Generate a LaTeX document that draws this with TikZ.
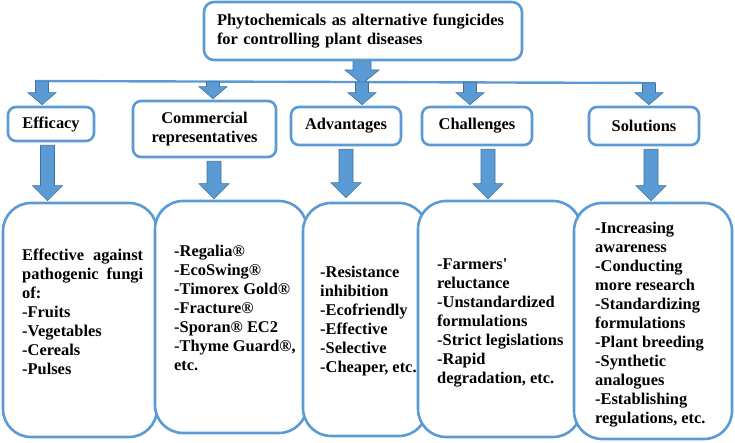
\documentclass[tikz,border=0pt]{standalone}
\usepackage{fontspec}
\setmainfont{Liberation Serif}
\usetikzlibrary{calc}
\definecolor{bl}{HTML}{5B9BD5}
\definecolor{bld}{HTML}{41719C}
\newcommand\blockarr[5]{%
  \draw[blockarrow] let \p1=(#1), \p2=(#2) in
   (\x1-#3,\y1) -- (\x1+#3,\y1) -- (\x1+#3,\y2+#5) -- (\x1+#4,\y2+#5) -- (\x1,\y2)
   -- (\x1-#4,\y2+#5) -- (\x1-#3,\y2+#5) -- cycle;}
\begin{document}
\begin{tikzpicture}[x=1pt,y=-1pt,
  tx/.style={font=\fontsize{16.4}{19}\selectfont\bfseries, text=black},
  topbox/.style={draw=bl, line width=2.6pt, rounded corners=10pt, fill=white, inner sep=0pt, tx, align=left},
  catbox/.style={draw=bl, line width=2.6pt, rounded corners=8pt, fill=white, inner sep=0pt, tx, align=center},
  bigbox/.style={draw=bl, line width=2.6pt, rounded corners=28pt, fill=white, inner sep=0pt},
  body/.style={tx, align=left, anchor=north west, inner sep=0pt},
  blockarrow/.style={fill=bl, draw=bld, line width=0.6pt, line join=miter},
  hline/.style={draw=bl, line width=2.4pt}
]
\useasboundingbox (0,0) rectangle (735,443);

% top box
\node[topbox, minimum width=318pt, minimum height=58pt, text width=292pt] (top) at (363,31)
  {Phytochemicals as alternative fungicides\\for controlling plant diseases};

% category boxes
\node[catbox, minimum width=86pt, minimum height=34pt] (eff) at (51,124) {Efficacy};
\node[catbox, minimum width=143pt, minimum height=56pt] (com) at (204.5,129) {Commercial\\representatives};
\node[catbox, minimum width=110pt, minimum height=38pt] (adv) at (346,126) {Advantages};
\node[catbox, minimum width=110pt, minimum height=38pt] (cha) at (477,126) {Challenges};
\node[catbox, minimum width=110pt, minimum height=38pt] (sol) at (644,126) {Solutions};

% horizontal distribution line
\coordinate (hl) at (35,81);
\coordinate (hr) at (655,83);
\draw[hline] (hl) -- (hr);

% arrow from top box to the line
\coordinate (ta) at ($(top.south)+(-1,0.5)$);
\coordinate (tb) at (362,84);
\blockarr{ta}{tb}{9pt}{17pt}{14pt}

% small arrows from the line to categories
\coordinate (s1) at (42,81.1);
\coordinate (s2) at (213,81.6);
\coordinate (s3) at (362,82.1);
\coordinate (s4) at (470,82.4);
\coordinate (s5) at (649,83);
\coordinate (e1) at ($(s1 |- eff.north)+(0,-1)$);
\coordinate (e2) at ($(s2 |- com.north)+(0,-1)$);
\coordinate (e3) at ($(s3 |- adv.north)+(0,-1)$);
\coordinate (e4) at ($(s4 |- cha.north)+(0,-1)$);
\coordinate (e5) at ($(s5 |- sol.north)+(0,-1)$);
\blockarr{s1}{e1}{6.5pt}{14pt}{12pt}
\blockarr{s2}{e2}{6.5pt}{14pt}{12pt}
\blockarr{s3}{e3}{6.5pt}{14pt}{12pt}
\blockarr{s4}{e4}{6.5pt}{14pt}{12pt}
\blockarr{s5}{e5}{6.5pt}{14pt}{12pt}

% detail boxes
\node[bigbox, minimum width=154pt, minimum height=234pt] (effb) at (80,320) {};
\node[bigbox, minimum width=152pt, minimum height=232pt] (comb) at (231,317) {};
\node[bigbox, minimum width=124pt, minimum height=233pt] (advb) at (365,319.5) {};
\node[bigbox, minimum width=163pt, minimum height=236pt] (chab) at (499.5,319) {};
\node[bigbox, minimum width=158pt, minimum height=236pt] (solb) at (653,321) {};

% big arrows from categories to detail boxes
\coordinate (b1) at ($(eff.south)+(-3.5,3)$);
\coordinate (b2) at ($(com.south)+(9.5,3)$);
\coordinate (b3) at ($(adv.south)+(0,3)$);
\coordinate (b4) at ($(cha.south)+(11,3)$);
\coordinate (b5) at ($(sol.south)+(7,3)$);
\coordinate (c1) at ($(b1 |- effb.north)+(0,-1)$);
\coordinate (c2) at ($(b2 |- comb.north)+(0,-1)$);
\coordinate (c3) at ($(b3 |- advb.north)+(0,-4)$);
\coordinate (c4) at ($(b4 |- chab.north)+(0,-1)$);
\coordinate (c5) at ($(b5 |- solb.north)+(0,-1)$);
\blockarr{b1}{c1}{7pt}{15pt}{15pt}
\blockarr{b2}{c2}{7pt}{15pt}{15pt}
\blockarr{b3}{c3}{7pt}{15pt}{15pt}
\blockarr{b4}{c4}{7pt}{15pt}{15pt}
\blockarr{b5}{c5}{7pt}{15pt}{15pt}

% texts
\node[body] (efft) at (22,246.7) {\strut\makebox[121pt][s]{Effective against}\\
  \makebox[121pt][s]{pathogenic fungi}\\ of:\\ -Fruits\\ -Vegetables\\ -Cereals\\ -Pulses};
\node[body] (comt) at (174,242.7) {\strut -Regalia®\\ -EcoSwing®\\ -Timorex Gold®\\
  -Fracture®\\ -Sporan® EC2\\ -Thyme Guard®,\\ etc.};
\node[body] (advt) at (320,263.7) {\strut -Resistance\\ inhibition\\ -Ecofriendly\\
  -Effective\\ -Selective\\ -Cheaper, etc.};
\node[body] (chat) at (437,255.7) {\strut -Farmers\textquotesingle\\ reluctance\\
  -Unstandardized\\ formulations\\ -Strict legislations\\ -Rapid\\ degradation, etc.};
\node[body] (solt) at (595,219.7) {\strut -Increasing\\ awareness\\ -Conducting\\
  more research\\ -Standardizing\\ formulations\\ -Plant breeding\\ -Synthetic\\
  analogues\\ -Establishing\\ regulations, etc.};
\end{tikzpicture}
\end{document}
